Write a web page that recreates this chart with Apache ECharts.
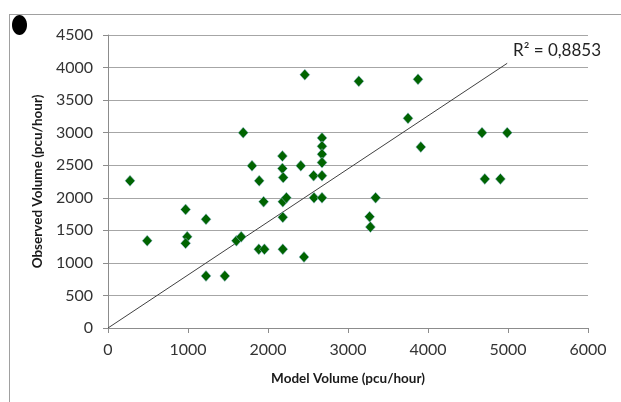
<!DOCTYPE html>
<html>
<head>
<meta charset="utf-8">
<script src="https://cdn.jsdelivr.net/npm/echarts@6/dist/echarts.min.js"></script>
<style>
html,body{margin:0;padding:0;background:#fff;}
#chart{width:621px;height:402px;}
</style>
</head>
<body>
<div id="chart"></div>
<script>
// Model volume (x) and observed volume (y), pcu/hour
var modelVolume = [275, 490, 970, 990, 970, 1225, 1225, 1460, 1605, 1665, 1690, 1800, 1890, 1945, 1885, 1955, 2185, 2185, 2185, 2230, 2180, 2180, 2190, 2410, 2460, 2450, 2570, 2675, 2675, 2675, 2675, 2675, 2575, 2675, 3135, 3270, 3280, 3345, 3750, 3875, 3910, 4675, 4990, 4710, 4905];
var observedVolume = [2260, 1340, 1820, 1400, 1300, 1670, 800, 800, 1340, 1400, 3000, 2490, 2260, 1940, 1210, 1210, 1210, 1700, 1940, 2000, 2640, 2450, 2310, 2490, 3890, 1090, 2340, 2340, 2920, 2790, 2670, 2540, 2000, 2000, 3790, 1710, 1550, 2000, 3220, 3820, 2780, 3000, 3000, 2290, 2290];
var xTicks = [0, 1000, 2000, 3000, 4000, 5000, 6000];
var yTicks = [0, 500, 1000, 1500, 2000, 2500, 3000, 3500, 4000, 4500];
var trendX = [0, 4990];
var trendSlope = 0.8147;
var r2Text = 'R\u00B2 = 0,8853';

var points = modelVolume.map(function (x, i) { return [x, observedVolume[i]]; });
var trend = trendX.map(function (x) { return [x, x * trendSlope]; });

var FONT = 'Lato';
var chart = echarts.init(document.getElementById('chart'), null, {renderer: 'canvas'});
chart.setOption({
  animation: false,
  backgroundColor: '#ffffff',
  grid: {left: 108, top: 35, width: 480, height: 293, containLabel: false},
  xAxis: {
    type: 'value', min: xTicks[0], max: xTicks[xTicks.length - 1], interval: 1000,
    name: 'Model Volume (pcu/hour)', nameLocation: 'middle', nameGap: 44,
    nameTextStyle: {fontFamily: FONT, fontWeight: 'bold', fontSize: 13.5, color: '#1a1a1a'},
    axisLine: {show: true, lineStyle: {color: '#8c8c8c', width: 1}},
    axisTick: {show: true, inside: false, length: 5, lineStyle: {color: '#8c8c8c'}},
    axisLabel: {fontFamily: FONT, fontSize: 16, color: '#333', margin: 14, formatter: function (v) { return String(v); }},
    splitLine: {show: false}
  },
  yAxis: {
    type: 'value', min: yTicks[0], max: yTicks[yTicks.length - 1], interval: 500,
    name: 'Observed Volume (pcu/hour)', nameLocation: 'middle', nameGap: 54,
    nameTextStyle: {fontFamily: FONT, fontWeight: 'bold', fontSize: 13.5, color: '#1a1a1a'},
    axisLine: {show: true, lineStyle: {color: '#8c8c8c', width: 1}},
    axisTick: {show: true, inside: false, length: 5, lineStyle: {color: '#8c8c8c'}},
    axisLabel: {fontFamily: FONT, fontSize: 16, color: '#333', margin: 15, formatter: function (v) { return String(v); }},
    splitLine: {show: true, lineStyle: {color: '#a6a6a6', width: 1}}
  },
  series: [
    {
      type: 'line', data: trend, showSymbol: false, symbol: 'none',
      lineStyle: {color: '#404040', width: 1}, silent: true, z: 3
    },
    {
      type: 'scatter', data: points, symbol: 'diamond', symbolSize: [10, 11],
      itemStyle: {color: '#006400', opacity: 1, borderColor: '#9cc0e6', borderWidth: 0.5}, z: 4
    }
  ],
  graphic: [
    {type: 'line', shape: {x1: 9, y1: 14.5, x2: 621, y2: 14.5}, style: {stroke: '#a0a0a0', lineWidth: 1}},
    {type: 'line', shape: {x1: 9.5, y1: 14, x2: 9.5, y2: 402}, style: {stroke: '#a0a0a0', lineWidth: 1}},
    {type: 'ellipse', shape: {cx: 19.5, cy: 25, rx: 7.5, ry: 10}, style: {fill: '#000'}},
    {type: 'text', left: 513, top: 42, style: {text: r2Text, font: '17px Lato', fill: '#222'}}
  ]
});
</script>
</body>
</html>
